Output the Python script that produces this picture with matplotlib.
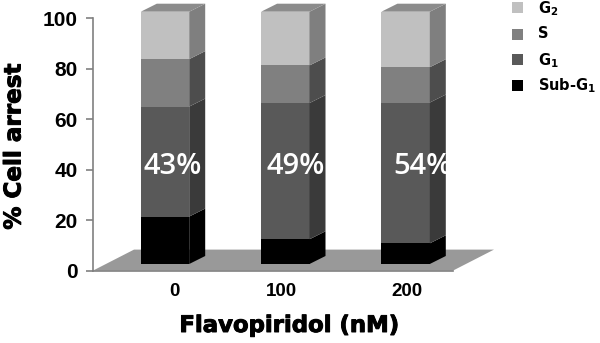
import numpy as np
import matplotlib
matplotlib.use('Agg')
import matplotlib.pyplot as plt
import matplotlib.patheffects as pe
from matplotlib.patches import Rectangle

# Values
doses = ['0', '100', '200']
sub_g1 = [18.8, 9.8, 8.2]
g1 = [43.6, 54.0, 55.8]
s = [18.8, 14.9, 14.0]
g2 = [18.8, 21.3, 22.0]
arrest_labels = ['43%', '49%', '54%']
phase_names = ['Sub-G$_{\\mathbf{1}}$', 'G$_{\\mathbf{1}}$', 'S', 'G$_{\\mathbf{2}}$']
y_ticks = [0, 20, 40, 60, 80, 100]

# front, side, top colour for each phase
front_cols = ['#000000', '#595959', '#808080', '#c0c0c0']
side_cols = ['#000000', '#3a3a3a', '#4d4d4d', '#7f7f7f']
top_col = '#8c8c8c'

plt.rcParams['font.family'] = ['Liberation Sans', 'DejaVu Sans']
plt.rcParams['mathtext.fontset'] = 'custom'
plt.rcParams['mathtext.rm'] = 'DejaVu Sans:bold'
plt.rcParams['mathtext.bf'] = 'DejaVu Sans:bold'

W, H = 600, 343
fig = plt.figure(figsize=(W / 100, H / 100), dpi=100)

# axes box in pixels
left, right, y0, y100 = 93, 453, 270.6, 18.3
ax = fig.add_axes([left / W, 1 - y0 / H, (right - left) / W, (y0 - y100) / H])
ax.set_ylim(0, 100)
sx = 120.3  # pixels per category
sy = (y0 - y100) / 100
ax.set_xlim((left - 165) / sx, (right - 165) / sx)

half = 24.2 / sx
dx = 16 / sx
dy = 8 / sy
base = 6.6 / sy

# Floor
fx0, fx1 = ax.get_xlim()
fdx = 41 / sx
fdy = 21 / sy
ax.fill([fx0, fx1, fx1 + fdx, fx0 + fdx], [0, 0, fdy, fdy], color='#999999', lw=0, clip_on=False, zorder=1)

# Stacked 3D columns
x = np.arange(len(doses))
bottom = np.zeros(len(doses)) + base
for vals, fc, sc in zip([sub_g1, g1, s, g2], front_cols, side_cols):
    vals = np.array(vals)
    ax.bar(x, vals, bottom=bottom, width=2 * half, color=fc, lw=0, zorder=3, clip_on=False)
    for xi, b, v in zip(x, bottom, vals):
        ax.fill([xi + half, xi + half + dx, xi + half + dx, xi + half],
                [b, b + dy, b + v + dy, b + v], color=sc, lw=0, zorder=3, clip_on=False)
    bottom = bottom + vals
for xi, top in zip(x, bottom):
    ax.fill([xi - half, xi + half, xi + half + dx, xi - half + dx],
            [top, top, top + dy, top + dy], color=top_col, lw=0, zorder=3, clip_on=False)

# White percent labels, they sit a bit right of the columns
for xi, lab, off in zip(x, arrest_labels, [0.06, 0.087, 0.14]):
    ax.text(xi + off, 41.2, lab, color='white', fontsize=21, family='Open Sans',
            fontweight='semibold', ha='center', va='center', zorder=5, clip_on=False)

# Axes
for sp in ['top', 'right']:
    ax.spines[sp].set_visible(False)
for sp in ['left', 'bottom']:
    ax.spines[sp].set_color('#808080')
    ax.spines[sp].set_linewidth(1.2)
ax.set_yticks(y_ticks)
ax.set_yticklabels([str(t) for t in y_ticks], fontsize=15, fontweight='bold')
ax.tick_params(axis='y', color='#808080', length=5, width=1.2, pad=6)
ax.set_xticks(x + np.array([0.075, -0.03, 0.01]))
ax.set_xticklabels(doses, fontsize=13.5, fontweight='bold')
ax.tick_params(axis='x', length=0, pad=9)

# Axis titles are heavier than any bold we have, so thicken them a little
heavy = [pe.withStroke(linewidth=0.7, foreground='black')]
ax.text((289 - left) / (right - left), -(325.5 - y0) / (y0 - y100), 'Flavopiridol (nM)', transform=ax.transAxes,
        family='DejaVu Sans', fontsize=16.4, fontweight='bold', ha='center', va='center', clip_on=False,
        path_effects=heavy)
ax.text(-(left - 14) / (right - left), (y0 - 147) / (y0 - y100), '% Cell arrest', transform=ax.transAxes,
        family='DejaVu Sans', fontsize=16.6, fontweight='bold', rotation=90, ha='center', va='center', clip_on=False,
        path_effects=heavy)

# Legend by hand, mathtext subscripts make fig.legend rows uneven
for name, col, box_top, baseline in zip(phase_names, front_cols, [80, 54, 29, 2], [90, 65, 38, 13]):
    fig.add_artist(Rectangle((512 / W, 1 - (box_top + 11) / H), 11 / W, 11 / H, color=col, lw=0,
                             transform=fig.transFigure))
    fig.text(538 / W, 1 - baseline / H, name, family='DejaVu Sans', fontweight='bold', fontsize=10.5,
             ha='left', va='baseline')

fig.savefig('out.png', dpi=100)
